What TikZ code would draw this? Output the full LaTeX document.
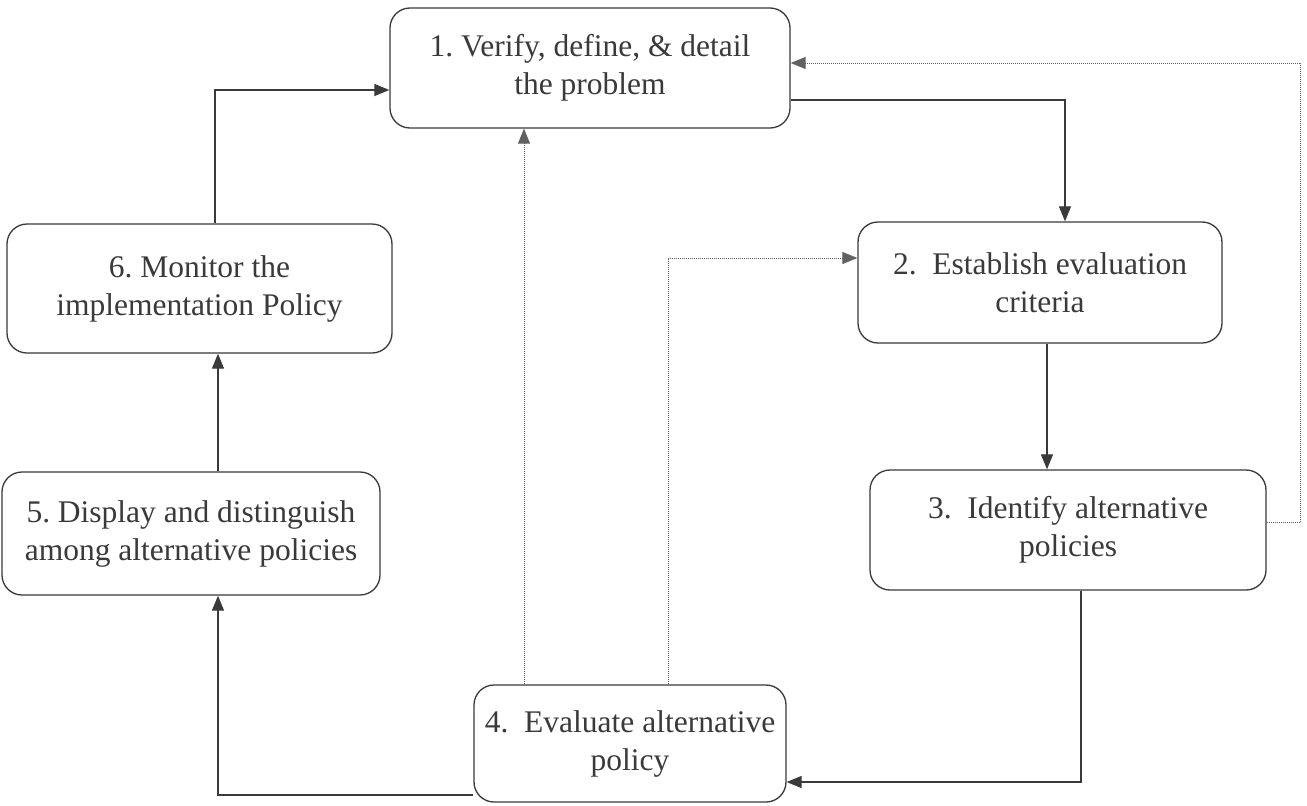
\documentclass[tikz,border=0pt]{standalone}
\usepackage{fontspec}
\setmainfont{Liberation Serif}
\usetikzlibrary{arrows.meta}
\definecolor{ink}{HTML}{3A3A3A}
\frenchspacing
\begin{document}
\begin{tikzpicture}[x=1pt,y=-1pt,
  stepbox/.style={draw=ink,line width=1.3pt,rounded corners=20pt,inner sep=0pt,
    align=center,text=ink,font=\fontsize{31.5}{38}\selectfont},
  arr/.style={draw=ink,line width=1.2pt,-{Triangle[length=15pt,width=12pt]}},
  dotarr/.style={draw=ink!80,line width=1pt,densely dotted,-{Triangle[length=15pt,width=12pt]}}]
\useasboundingbox[fill=white] (0,0) rectangle (1307,806);
\node[stepbox,minimum width=400,minimum height=120] (b1) at (590,68) {1. Verify, define, \& detail\\the problem\vphantom{p}\\[-30pt]};
\node[stepbox,minimum width=364,minimum height=121] (b2) at (1040,282.5) {2.\ \ Establish evaluation\\criteria};
\node[stepbox,minimum width=396,minimum height=120] (b3) at (1068,530) {3.\ \ Identify alternative\\policies};
\node[stepbox,minimum width=312,minimum height=117] (b4) at (630,743.5) {4.\ \ Evaluate alternative\\policy};
\node[stepbox,minimum width=378,minimum height=123] (b5) at (191,533.5) {5. Display and distinguish\\among alternative policies};
\node[stepbox,minimum width=385,minimum height=129] (b6) at (199.5,288.5) {6. Monitor the\\implementation Policy};
% solid cycle
\draw[arr] ([xshift=15.5]b6.north) |- ([yshift=-22]b1.west);
\draw[arr] ([yshift=-32]b1.east) -| ([xshift=25]b2.north);
\draw[arr] ([xshift=7]b2.south) -- ([xshift=7]b2.south |- b3.north);
\draw[arr] ([xshift=13]b3.south) |- ([yshift=-38.5]b4.east);
\draw[arr] ([yshift=-51.5]b4.west) -| ([xshift=27]b5.south);
\draw[arr] ([xshift=27]b5.north) -- ([xshift=27]b5.north |- b6.south);
% dotted feedback
\draw[dotarr] ([yshift=8]b3.east) -- ++(34,0) |- ([yshift=5]b1.east);
\draw[dotarr] ([xshift=-106]b4.north) -- ([xshift=-106]b4.north |- b1.south);
\draw[dotarr] ([xshift=38]b4.north) |- ([yshift=24.5]b2.west);
\end{tikzpicture}
\end{document}
